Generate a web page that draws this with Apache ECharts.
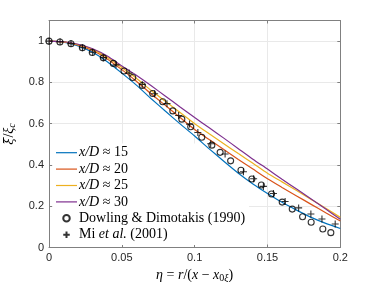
<!DOCTYPE html>
<html>
<head>
<meta charset="utf-8">
<script src="https://cdn.jsdelivr.net/npm/echarts@6/dist/echarts.min.js"></script>
<style>html,body{margin:0;padding:0;background:#fff}#c{width:376px;height:282px}</style>
</head>
<body>
<div id="c"></div>
<script>
// ---- data ----
var etaCurve = [0,0.01,0.02,0.03,0.04,0.05,0.06,0.07,0.08,0.09,0.10,0.11,0.12,0.13,0.14,0.15,0.16,0.17,0.18,0.19,0.20];
var xd15 = [1,0.995,0.977,0.946,0.900,0.845,0.787,0.722,0.660,0.599,0.540,0.478,0.418,0.360,0.308,0.262,0.219,0.181,0.146,0.117,0.092];
var xd20 = [1,0.996,0.981,0.955,0.914,0.862,0.806,0.745,0.688,0.630,0.572,0.523,0.475,0.427,0.380,0.333,0.291,0.250,0.209,0.168,0.128];
var xd25 = [1,0.996,0.983,0.960,0.922,0.872,0.820,0.762,0.708,0.654,0.600,0.551,0.503,0.455,0.408,0.360,0.318,0.276,0.233,0.190,0.146];
var xd30 = [1,0.997,0.985,0.963,0.928,0.880,0.835,0.785,0.733,0.681,0.630,0.580,0.530,0.479,0.428,0.380,0.331,0.283,0.235,0.186,0.137];

var ddEta = [0,0.0075,0.0151,0.0229,0.0297,0.0373,0.0442,0.0515,0.0575,0.0641,0.0712,0.0781,0.0850,0.0912,0.0973,0.1049,0.1118,0.1175,0.1247,0.1318,0.1393,0.1458,0.1528,0.1601,0.1670,0.1741,0.1800,0.1880,0.1935];
var ddVal = [1.0,0.996,0.987,0.968,0.945,0.919,0.892,0.855,0.824,0.785,0.746,0.706,0.662,0.622,0.585,0.534,0.496,0.461,0.420,0.374,0.332,0.303,0.259,0.220,0.186,0.149,0.122,0.090,0.072];

var miEta = [0,0.0076,0.0151,0.0230,0.0300,0.0373,0.0460,0.0550,0.0640,0.0725,0.0810,0.0890,0.0965,0.1022,0.1110,0.1209,0.1335,0.1405,0.1472,0.1541,0.1621,0.1714,0.1798,0.1874,0.1965];
var miVal = [1.0,0.997,0.988,0.968,0.946,0.920,0.885,0.845,0.790,0.745,0.697,0.640,0.598,0.557,0.503,0.453,0.367,0.333,0.296,0.262,0.223,0.192,0.162,0.138,0.114];

var xTicks = [0,0.05,0.1,0.15,0.2];
var yTicks = [0,0.2,0.4,0.6,0.8,1];

var names = ['x/D ≈ 15','x/D ≈ 20','x/D ≈ 25','x/D ≈ 30','Dowling & Dimotakis (1990)','Mi et al. (2001)'];
var colors = ['#0072BD','#D95319','#EDB120','#7E2F8E'];

function zip(a,b){return a.map(function(v,i){return [v,b[i]];});}

var chart = echarts.init(document.getElementById('c'), null, {renderer:'canvas'});
var serif = 'Liberation Serif';
var sans = 'Liberation Sans';
var axisCol = '#808080';
var linePath = 'path://M0,0H21V1.2H0Z';
var plusPath = 'path://M5,0 L5,10 M0,5 L10,5';
var lineSeries = [xd15,xd20,xd25,xd30].map(function(d,i){
  return {name:names[i], type:'line', data:zip(etaCurve,d), symbol:'none', smooth:0.2,
    lineStyle:{color:colors[i], width:1.2}, itemStyle:{color:colors[i]}, z:2};
});
var option = {
  animation:false,
  grid:{left:49, right:35.7, top:20.5, bottom:34.5, outerBoundsMode:'none', containLabel:false},
  legend:{
    orient:'vertical', left:53, top:143.5, itemWidth:21, itemHeight:6.5, itemGap:0, z:1,
    backgroundColor:'#fff', padding:[1,4,2,3],
    data:[
      {name:names[0], icon:linePath},{name:names[1], icon:linePath},
      {name:names[2], icon:linePath},{name:names[3], icon:linePath},
      {name:names[4], icon:'circle'},{name:names[5], icon:plusPath}
    ],
    textStyle:{fontFamily:serif, fontSize:14, lineHeight:16.4, color:'#000', padding:[0,0,0,-3],
      rich:{i:{fontFamily:serif, fontStyle:'italic', fontSize:14, lineHeight:16.4, color:'#000'},
            n:{fontFamily:serif, fontSize:14, lineHeight:16.4, color:'#000'}}},
    formatter:function(n){
      if(n.indexOf('x/D')===0){return '{i|x/D}{n|'+n.slice(3)+'}';}
      if(n.indexOf('Mi')===0){return '{n|Mi }{i|et al.}{n| (2001)}';}
      return '{n|'+n+'}';
    }
  },
  xAxis:[{
    type:'value', min:0, max:0.2, interval:0.05,
    name:'{i|η} = {i|r}/({i|x} − {i|x}{s|0}{si|ξ})', nameLocation:'middle', nameGap:19,
    nameTextStyle:{fontFamily:serif, fontSize:14, color:'#000',
      rich:{i:{fontFamily:serif, fontStyle:'italic', fontSize:14, color:'#000'},
            s:{fontFamily:serif, fontSize:10, color:'#000', padding:[6,0,0,0]},
            si:{fontFamily:serif, fontStyle:'italic', fontSize:10, color:'#000', padding:[6,0,0,0]}}},
    axisLine:{show:true, onZero:false, lineStyle:{color:axisCol, width:1}},
    axisTick:{show:true, inside:true, length:3, lineStyle:{color:axisCol}},
    axisLabel:{fontFamily:sans, fontSize:11, color:'#262626', margin:5,
      formatter:function(v){var r=+(+v).toFixed(4); return xTicks.indexOf(r)>=0 ? String(r) : '';}},
    splitLine:{show:true, lineStyle:{color:'#e9e9e9', width:1}}
  },{
    type:'value', min:0, max:0.2, interval:0.05, position:'top',
    axisLine:{show:true, onZero:false, lineStyle:{color:axisCol, width:1}},
    axisTick:{show:true, inside:true, length:3, lineStyle:{color:axisCol}},
    axisLabel:{show:false}, splitLine:{show:false}
  }],
  yAxis:[{
    type:'value', min:0, max:1.1, interval:0.2,
    name:'{b|ξ̄}{n|/}{i|ξ}{s|c}', nameLocation:'middle', nameGap:28, nameRotate:90,
    nameTextStyle:{fontFamily:serif, fontSize:14, color:'#000',
      rich:{i:{fontFamily:serif, fontStyle:'italic', fontSize:14, color:'#000'},
            b:{fontFamily:'DejaVu Serif', fontStyle:'italic', fontSize:13, color:'#000'},
            n:{fontFamily:serif, fontSize:14, color:'#000'},
            s:{fontFamily:serif, fontStyle:'italic', fontSize:10, color:'#000', padding:[6,0,0,0]}}},
    axisLine:{show:true, onZero:false, lineStyle:{color:axisCol, width:1}},
    axisTick:{show:true, inside:true, length:3, lineStyle:{color:axisCol}},
    axisLabel:{fontFamily:sans, fontSize:11, color:'#262626', margin:5,
      formatter:function(v){var r=+(+v).toFixed(4); return yTicks.indexOf(r)>=0 ? String(r) : '';}},
    splitLine:{show:true, lineStyle:{color:'#e9e9e9', width:1}}
  },{
    type:'value', min:0, max:1.1, interval:0.2, position:'right',
    axisLine:{show:true, onZero:false, lineStyle:{color:axisCol, width:1}},
    axisTick:{show:true, inside:true, length:3, lineStyle:{color:axisCol}},
    axisLabel:{show:false}, splitLine:{show:false}
  }],
  series: lineSeries.concat([
    {name:names[4], type:'scatter', data:zip(ddEta,ddVal), symbol:'circle', symbolSize:6,
      itemStyle:{color:'rgba(0,0,0,0)', borderColor:'#000', borderWidth:1.1}, z:3},
    {name:names[5], type:'scatter', data:zip(miEta,miVal), symbol:plusPath, symbolSize:7,
      itemStyle:{color:'rgba(0,0,0,0)', borderColor:'#000', borderWidth:1.1}, z:3}
  ])
};
chart.setOption(option);
</script>
</body>
</html>
